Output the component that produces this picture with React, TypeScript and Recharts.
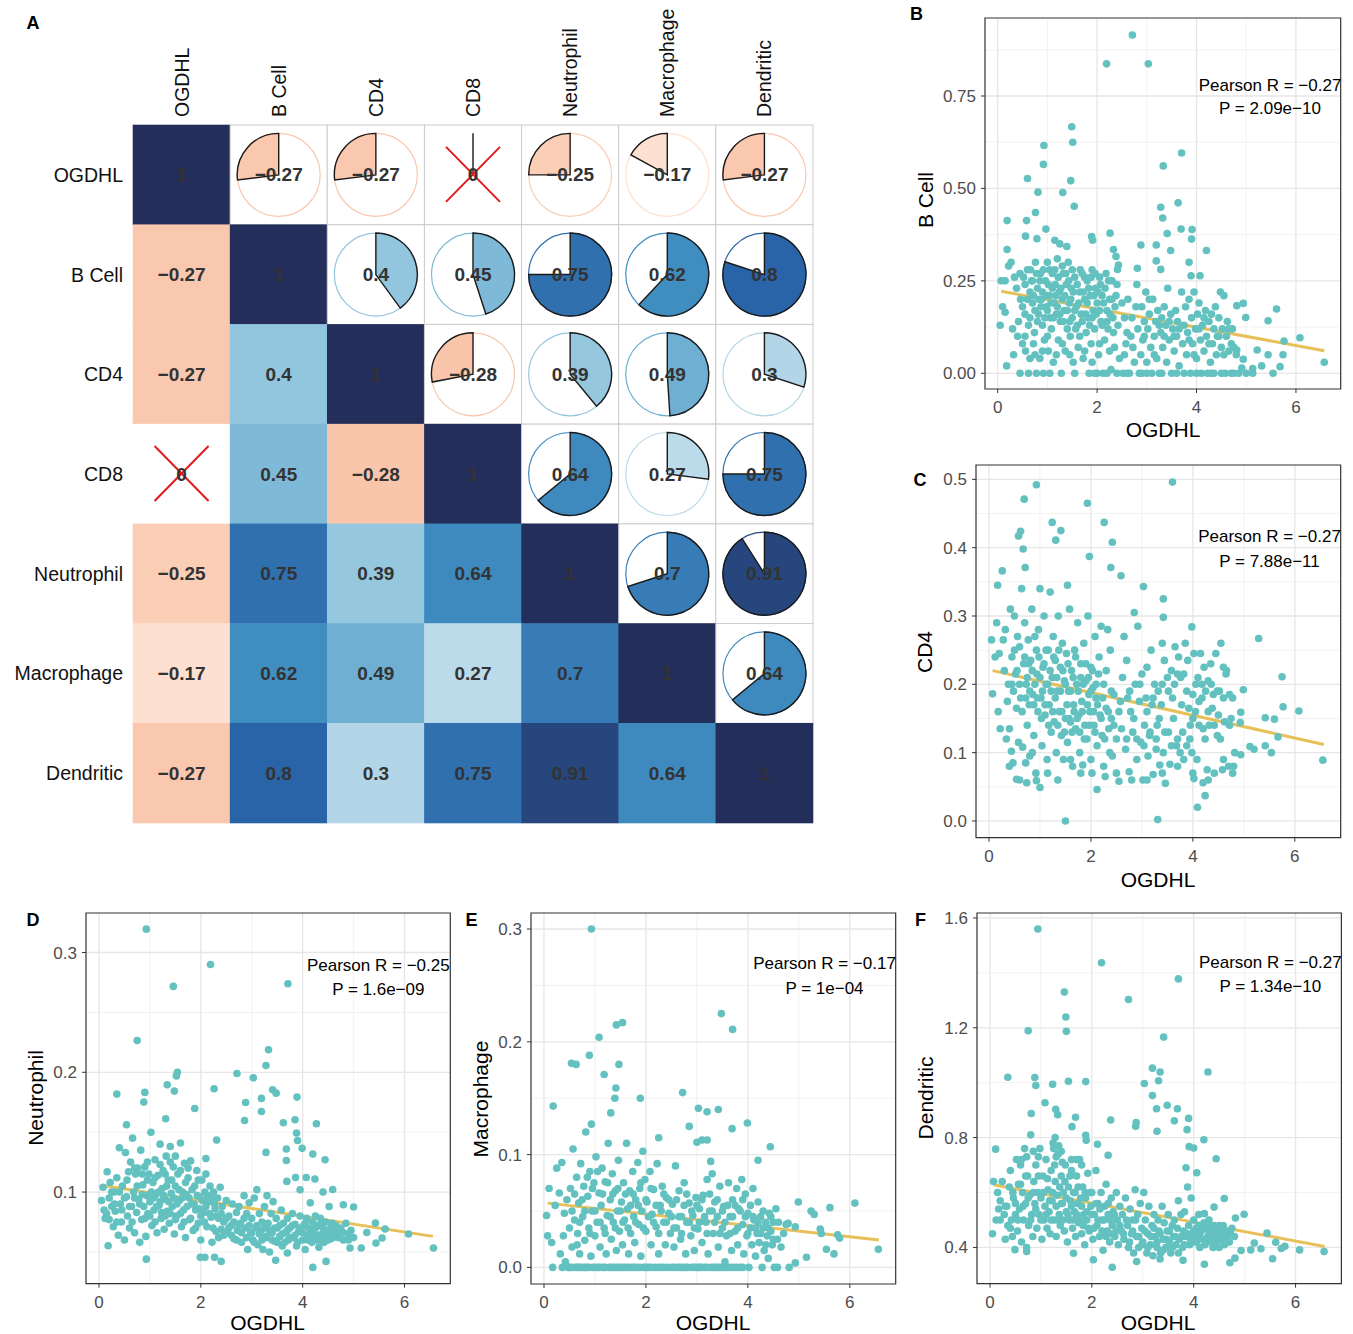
import React from 'react'
import {
  ScatterChart,
  Scatter,
  XAxis,
  YAxis,
  CartesianGrid,
  ReferenceLine,
  ReferenceArea,
} from 'recharts'

const FONT = '"Liberation Sans", Arial, Helvetica, sans-serif'

// ---------- panel A: correlation matrix ----------
const cellTypes = ['OGDHL', 'B Cell', 'CD4', 'CD8', 'Neutrophil', 'Macrophage', 'Dendritic']
const rOGDHL = [1, -0.27, -0.27, 0, -0.25, -0.17, -0.27]
const rBCell = [-0.27, 1, 0.4, 0.45, 0.75, 0.62, 0.8]
const rCD4 = [-0.27, 0.4, 1, -0.28, 0.39, 0.49, 0.3]
const rCD8 = [0, 0.45, -0.28, 1, 0.64, 0.27, 0.75]
const rNeutrophil = [-0.25, 0.75, 0.39, 0.64, 1, 0.7, 0.91]
const rMacrophage = [-0.17, 0.62, 0.49, 0.27, 0.7, 1, 0.64]
const rDendritic = [-0.27, 0.8, 0.3, 0.75, 0.91, 0.64, 1]
const corrMatrix = [rOGDHL, rBCell, rCD4, rCD8, rNeutrophil, rMacrophage, rDendritic]
const notSignificant = ['0-3', '3-0']
const colorbarTicks = [-1, -0.8, -0.6, -0.4, -0.2, 0, 0.2, 0.4, 0.6, 0.8, 1]

// ---------- panels B-F: OGDHL vs immune infiltration ----------
const ogdhlTicks = [0, 2, 4, 6]
const ogdhlMinor = [1, 3, 5]

const bCellPoints: [number, number][] = [
  [2.71,0.915],[2.19,0.837],[3.03,0.837],[1.49,0.667],[1.51,0.625],[0.93,0.616],[0.92,0.565],[0.6,0.527],[1.47,0.521],[1.31,0.489],[0.81,0.49],[1.54,0.452],[0.76,0.435],[0.19,0.413],[0.58,0.413],[0.56,0.371],[0.79,0.364],[0.97,0.39],
  [3.7,0.596],[3.33,0.561],[3.63,0.461],[3.28,0.449],[3.32,0.42],[3.69,0.39],[3.91,0.389],[3.9,0.363],[3.41,0.378],[4.2,0.332],[2.26,0.379],[1.89,0.37],[1.91,0.36],[1.15,0.36],[1.25,0.35],[1.39,0.343],[0.19,0.335],[2.33,0.335],[2.38,0.316],[2.43,0.293],[2.41,0.281],
  [2.88,0.347],[2.81,0.284],[3.19,0.347],[3.19,0.304],[3.28,0.281],[3.48,0.332],[3.85,0.3],[3.89,0.264],[4.07,0.264],[5.61,0.174],[5.44,0.142],[6.08,0.096],[6.57,0.03],[5.76,0.087],[5.74,0.05],[5.44,0.05],[5.54,0.0],[5.68,0.018],[5.31,0.02],[5.22,0.063],[5.13,0.013],[5.13,0.0],[4.99,0.151],[4.94,0.189],[4.81,0.183],[4.81,0.063],[4.94,0.038],[4.91,0.014],
  [0.05,0.13],[0.07,0.25],[0.1,0.18],[0.15,0.165],[0.15,0.25],[0.18,0.02],[0.22,0.29],[0.27,0.3],[0.3,0.12],[0.32,0.05],[0.34,0.26],[0.38,0.23],[0.4,0.1],[0.42,0.14],[0.45,0.0],[0.46,0.2],[0.5,0.08],[0.52,0.26],[0.55,0.16],[0.56,0.06],[0.6,0.28],[0.62,0.13],[0.62,0.0],[0.65,0.22],[0.68,0.25],[0.7,0.19],[0.72,0.08],[0.74,0.11],[0.76,0.3],[0.78,0.0],[0.8,0.23],[0.82,0.16],[0.85,0.04],[0.86,0.27],[0.88,0.2],[0.9,0.13],[0.92,0.0],[0.94,0.09],[0.96,0.25],[0.98,0.18],
  [1.0,0.3],[1.02,0.06],[1.04,0.21],[1.06,0.15],[1.08,0.12],[1.1,0.27],[1.12,0.03],[1.14,0.19],[1.16,0.24],[1.18,0.16],[1.2,0.31],[1.22,0.09],[1.24,0.22],[1.26,0.14],[1.28,0.0],[1.3,0.2],[1.32,0.27],[1.34,0.17],[1.36,0.06],[1.38,0.24],[1.4,0.12],[1.42,0.3],[1.44,0.19],[1.46,0.1],[1.48,0.23],[1.5,0.15],[1.52,0.03],[1.55,0.26],[1.58,0.18],[1.6,0.13],[1.62,0.07],[1.65,0.22],[1.68,0.16],[1.7,0.27],[1.72,0.04],[1.75,0.2],[1.78,0.11],[1.8,0.25],[1.82,0.15],[1.84,0.0],[1.86,0.21],[1.88,0.08],[1.9,0.28],[1.92,0.17],[1.95,0.12],[1.97,0.23],
  [2.0,0.0],[2.0,0.19],[2.03,0.05],[2.05,0.26],[2.08,0.14],[2.1,0.21],[2.12,0.0],[2.15,0.09],[2.18,0.27],[2.2,0.17],[2.22,0.12],[2.25,0.2],[2.28,0.01],[2.3,0.25],[2.32,0.15],[2.35,0.07],[2.38,0.21],[2.4,0.0],[2.42,0.13],
  [2.5,0.19],[2.55,0.05],[2.6,0.11],[2.62,0.2],[2.65,0.0],[2.7,0.15],[2.72,0.07],[2.75,0.03],[2.8,0.24],[2.82,0.12],[2.85,0.0],[2.9,0.18],[2.92,0.09],[2.95,0.14],[2.98,0.22],[3.0,0.03],[3.02,0.12],[3.05,0.16],[3.08,0.07],[3.1,0.0],[3.12,0.2],[3.15,0.1],[3.18,0.14],[3.2,0.04],[3.22,0.17],[3.25,0.0],[3.28,0.11],[3.3,0.15],[3.32,0.07],[3.35,0.18],[3.38,0.13],[3.4,0.03],[3.42,0.23],[3.45,0.09],[3.48,0.16],[3.5,0.0],[3.52,0.12],[3.55,0.06],[3.58,0.17],[3.6,0.1],[3.62,0.14],[3.65,0.02],[3.7,0.22],[3.72,0.08],[3.75,0.13],[3.78,0.18],[3.8,0.05],[3.82,0.11],[3.85,0.2],[3.88,0.0],[3.9,0.15],[3.92,0.08],[3.95,0.22],[3.98,0.12],
  [4.0,0.04],[4.02,0.16],[4.05,0.19],[4.08,0.09],[4.1,0.0],[4.12,0.13],[4.15,0.06],[4.18,0.17],[4.2,0.1],[4.22,0.0],[4.25,0.14],[4.28,0.03],[4.3,0.16],[4.32,0.08],[4.35,0.12],[4.38,0.18],[4.4,0.05],[4.42,0.1],[4.45,0.15],[4.48,0.22],[4.5,0.07],[4.52,0.12],[4.55,0.21],[4.58,0.0],[4.6,0.1],[4.62,0.14],[4.65,0.06],[4.7,0.08],[4.72,0.12],[4.75,0.0],[4.8,0.05],
  [0.45,0.27],[0.5,0.18],[0.55,0.24],[0.6,0.2],[0.65,0.15],[0.66,0.28],[0.7,0.25],[0.72,0.21],[0.75,0.17],[0.78,0.27],[0.8,0.14],[0.83,0.2],[0.85,0.25],[0.87,0.18],[0.9,0.22],[0.92,0.28],[0.95,0.15],[0.97,0.21],[1.0,0.17],[1.02,0.24],[1.05,0.28],[1.07,0.19],[1.1,0.23],[1.12,0.15],[1.15,0.28],[1.17,0.21],[1.2,0.18],[1.22,0.26],[1.25,0.16],[1.27,0.23],[1.3,0.29],[1.32,0.14],[1.35,0.21],[1.37,0.27],[1.4,0.17],[1.43,0.25],[1.45,0.14],[1.47,0.2],[1.5,0.28],[1.52,0.22],[1.55,0.17],[1.57,0.12],[1.6,0.24],[1.63,0.19],[1.66,0.28],[1.7,0.14],[1.72,0.22],[1.75,0.26],[1.77,0.16],[1.8,0.19],[1.83,0.23],[1.85,0.13],[1.88,0.26],[1.9,0.15],[1.93,0.21],[1.96,0.27],[1.98,0.16],[2.02,0.22],[2.05,0.17],[2.07,0.24],[2.1,0.13],[2.13,0.19],[2.16,0.23],[2.2,0.14],[2.23,0.25],[2.26,0.16],[2.3,0.2],[2.33,0.11],[2.36,0.18],[2.4,0.24],
  [0.55,0.1],[0.65,0.04],[0.75,0.05],[0.9,0.06],[1.0,0.1],[1.05,0.0],[1.18,0.05],[1.3,0.08],[1.45,0.05],[1.55,0.0],[1.65,0.1],[1.75,0.06],[1.9,0.03],[1.95,0.0],[2.05,0.08],[2.2,0.0],[2.25,0.06],[2.45,0.04],[2.52,0.0],[2.58,0.08],
  [2.55,0.15],[2.68,0.1],[2.78,0.18],[2.88,0.05],[2.95,0.1],[3.05,0.2],[3.15,0.05],[3.25,0.13],[3.35,0.1],[3.45,0.14],[3.55,0.1],[3.65,0.12],[3.75,0.0],[3.85,0.09],[3.95,0.05],[4.05,0.12],[4.15,0.15],[4.25,0.08],[4.35,0.0],[4.45,0.1],[4.55,0.05],[4.65,0.12],[4.75,0.07],[2.6,0.0],[2.9,0.0],[3.0,0.0],[3.3,0.0],[3.6,0.0],[4.0,0.0],[4.3,0.0],[4.5,0.0],[4.7,0.0],[5.0,0.0],[4.85,0.0],
]
const bCellFit: [number, number][] = [[0.07, 0.222], [6.57, 0.061]]

const cd4Points: [number, number][] = [
  [0.93,0.492],[3.6,0.496],[0.69,0.471],[1.93,0.465],[1.24,0.437],[2.26,0.437],[1.41,0.425],[1.31,0.411],[2.42,0.408],[0.62,0.424],[0.58,0.417],[0.67,0.398],[0.71,0.371],[1.97,0.387],[2.39,0.371],[2.59,0.359],[0.26,0.366],[0.17,0.345],[3.03,0.343],[1.54,0.345],[3.42,0.325],[3.42,0.298],[3.98,0.284],[5.29,0.267],
  [5.75,0.211],[5.77,0.167],[6.08,0.161],[6.55,0.089],[5.42,0.151],[5.6,0.149],[5.67,0.123],[5.42,0.11],[5.54,0.1],[5.12,0.109],[5.2,0.105],[4.99,0.192],[4.94,0.159],[4.93,0.144],[4.82,0.1],[4.94,0.097],
  [1.5,0.0],[3.31,0.002],[4.09,0.02],[4.24,0.037],[4.2,0.056],[4.02,0.062],[1.0,0.049],[2.12,0.046],[0.54,0.061],[0.74,0.056],[0.93,0.059],
  [0.05,0.265],[0.07,0.186],[0.12,0.24],[0.15,0.29],[0.18,0.16],[0.2,0.245],[0.22,0.135],[0.28,0.265],[0.3,0.22],[0.32,0.28],[0.34,0.12],[0.36,0.175],[0.38,0.2],[0.4,0.135],[0.42,0.31],[0.44,0.102],[0.45,0.24],[0.47,0.085],[0.48,0.19],[0.5,0.3],[0.52,0.215],[0.54,0.165],[0.56,0.27],[0.58,0.115],[0.6,0.255],[0.62,0.18],[0.64,0.34],[0.66,0.108],[0.68,0.23],[0.7,0.29],[0.72,0.085],[0.73,0.2],[0.75,0.14],[0.77,0.265],[0.79,0.17],[0.8,0.095],[0.82,0.235],[0.84,0.31],[0.86,0.185],[0.88,0.125],[0.9,0.27],[0.92,0.07],[0.94,0.215],[0.96,0.16],[0.98,0.24],
  [1.0,0.34],[1.02,0.18],[1.04,0.11],[1.06,0.225],[1.08,0.3],[1.1,0.155],[1.12,0.2],[1.14,0.09],[1.16,0.25],[1.18,0.17],[1.2,0.335],[1.22,0.13],[1.24,0.21],[1.26,0.27],[1.28,0.145],[1.3,0.235],[1.32,0.1],[1.34,0.19],[1.36,0.3],[1.38,0.16],[1.4,0.225],[1.42,0.125],[1.44,0.26],[1.46,0.09],[1.48,0.205],[1.5,0.15],[1.52,0.245],[1.54,0.115],[1.56,0.19],[1.58,0.31],[1.6,0.145],[1.62,0.22],[1.64,0.08],[1.66,0.17],[1.68,0.25],[1.7,0.135],[1.72,0.2],[1.74,0.29],[1.76,0.155],[1.78,0.1],[1.8,0.23],[1.82,0.175],[1.84,0.082],[1.86,0.26],[1.88,0.14],[1.9,0.205],[1.92,0.12],[1.94,0.3],[1.96,0.185],[1.98,0.16],
  [2.0,0.225],[2.02,0.07],[2.04,0.195],[2.06,0.14],[2.08,0.27],[2.1,0.18],[2.12,0.11],[2.15,0.215],[2.18,0.155],[2.2,0.285],[2.22,0.125],[2.25,0.2],[2.28,0.065],[2.3,0.165],[2.33,0.28],[2.35,0.135],[2.38,0.25],[2.4,0.15],[2.42,0.095],[2.45,0.185],[2.5,0.12],[2.55,0.058],[2.58,0.175],[2.6,0.135],[2.65,0.27],[2.68,0.105],[2.7,0.235],[2.72,0.18],[2.75,0.072],[2.78,0.16],[2.82,0.13],[2.85,0.305],[2.87,0.2],[2.9,0.09],[2.92,0.285],[2.95,0.175],[2.98,0.115],
  [3.0,0.215],[3.02,0.06],[3.05,0.14],[3.08,0.18],[3.1,0.225],[3.12,0.095],[3.15,0.125],[3.18,0.25],[3.2,0.17],[3.22,0.068],[3.25,0.2],[3.28,0.105],[3.3,0.14],[3.32,0.19],[3.35,0.082],[3.38,0.17],[3.4,0.26],[3.42,0.1],[3.44,0.235],[3.46,0.055],[3.5,0.21],[3.52,0.13],[3.55,0.083],[3.58,0.22],[3.6,0.18],[3.62,0.15],[3.65,0.255],[3.68,0.11],[3.7,0.215],[3.72,0.24],[3.75,0.1],[3.78,0.17],[3.8,0.13],[3.82,0.215],[3.85,0.26],[3.88,0.11],[3.9,0.235],[3.92,0.165],[3.95,0.14],[3.98,0.1],
  [4.0,0.185],[4.02,0.245],[4.05,0.16],[4.08,0.09],[4.1,0.21],[4.12,0.175],[4.15,0.245],[4.18,0.2],[4.2,0.135],[4.22,0.225],[4.25,0.19],[4.28,0.075],[4.3,0.205],[4.32,0.14],[4.35,0.23],[4.38,0.165],[4.4,0.185],[4.42,0.07],[4.45,0.245],[4.48,0.125],[4.5,0.155],[4.52,0.19],[4.55,0.26],[4.58,0.075],[4.6,0.225],[4.62,0.145],[4.65,0.215],[4.7,0.08],[4.72,0.185],[4.75,0.15],[4.78,0.07],[4.8,0.08],
  [0.45,0.2],[0.5,0.25],[0.55,0.22],[0.6,0.2],[0.65,0.16],[0.7,0.24],[0.72,0.18],[0.75,0.21],[0.78,0.23],[0.8,0.19],[0.85,0.22],[0.88,0.17],[0.9,0.2],[0.93,0.25],[0.95,0.18],[0.97,0.28],[1.0,0.21],[1.03,0.15],[1.05,0.19],[1.08,0.23],[1.1,0.17],[1.12,0.25],[1.15,0.2],[1.17,0.14],[1.2,0.22],[1.22,0.19],[1.25,0.16],[1.27,0.24],[1.3,0.18],[1.33,0.21],[1.35,0.14],[1.37,0.25],[1.4,0.19],[1.43,0.16],[1.45,0.22],[1.48,0.13],[1.5,0.2],[1.53,0.17],[1.55,0.23],[1.57,0.15],[1.6,0.19],[1.63,0.13],[1.65,0.21],[1.67,0.16],[1.7,0.24],[1.73,0.15],[1.75,0.19],[1.78,0.13],[1.8,0.21],[1.83,0.16],[1.85,0.2],[1.87,0.12],[1.9,0.23],[1.93,0.17],[1.95,0.21],[1.97,0.14],[2.0,0.19],[2.03,0.22],[2.05,0.16],[2.08,0.13],[2.1,0.2],[2.13,0.17],[2.16,0.24],[2.2,0.15],[2.23,0.18],[2.27,0.12],[2.3,0.22],[2.34,0.16],[2.37,0.1],[2.4,0.19],[2.45,0.14],
  [2.55,0.16],[2.62,0.21],[2.7,0.12],[2.76,0.19],[2.84,0.15],[2.9,0.12],[2.96,0.2],[3.04,0.11],[3.1,0.16],[3.16,0.13],[3.22,0.18],[3.28,0.12],[3.34,0.15],[3.4,0.2],[3.45,0.13],[3.52,0.19],[3.58,0.11],[3.64,0.2],[3.7,0.12],[3.76,0.21],[3.82,0.09],[3.88,0.19],[3.94,0.12],[4.0,0.15],[4.06,0.2],[4.12,0.14],[4.18,0.18],[4.24,0.12],[4.3,0.16],[4.36,0.2],[4.42,0.14],[4.48,0.19],[4.54,0.12],[4.6,0.18],[4.66,0.22],[4.72,0.14],[4.78,0.18],
  [0.4,0.08],[0.6,0.06],[0.85,0.1],[1.15,0.07],[1.35,0.06],[1.6,0.09],[1.8,0.07],[2.0,0.09],[2.25,0.08],[2.5,0.07],[2.8,0.06],[3.1,0.06],[3.4,0.07],[3.7,0.08],[4.0,0.07],[4.3,0.06],[4.6,0.09],
]
const cd4Fit: [number, number][] = [[0.07, 0.22], [6.57, 0.112]]

const neutrophilPoints: [number, number][] = [
  [0.93,0.3195],[2.19,0.29],[1.46,0.2717],[3.71,0.2739],[0.75,0.2266],[3.33,0.2188],[3.28,0.2057],[2.71,0.199],[3.03,0.1954],[1.54,0.2],[1.52,0.197],[0.35,0.1818],[0.9,0.1832],[0.88,0.1751],[1.34,0.1896],[1.48,0.1843],[2.26,0.1863],[1.88,0.1698],
  [2.88,0.1748],[3.19,0.1782],[3.41,0.1854],[3.48,0.1826],[3.89,0.1793],[3.19,0.1673],[2.86,0.1598],[3.62,0.1579],[3.85,0.1604],[4.27,0.157],[0.54,0.1562],[1.31,0.1612],[2.31,0.1434],[3.28,0.1331],[3.88,0.1493],[3.9,0.1431],[3.99,0.1365],[3.68,0.136],[3.68,0.1264],[4.2,0.1317],[4.44,0.127],
  [3.69,0.1089],[3.86,0.1122],[4.07,0.1122],[4.24,0.1109],[3.95,0.1019],[4.59,0.1022],[4.4,0.1],[4.8,0.0894],[5.0,0.0875],[5.43,0.0741],[5.26,0.0663],[5.62,0.0691],[6.08,0.065],[6.57,0.0533],[5.56,0.0616],[5.44,0.0574],[5.15,0.0533],[4.93,0.0533],
  [0.93,0.044],[0.18,0.0552],[1.99,0.0455],[2.08,0.0455],[2.27,0.0455],[2.4,0.0421],[3.47,0.043],[4.2,0.0371],[4.46,0.0421],[3.7,0.0491],
  [0.05,0.093],[0.08,0.104],[0.12,0.078],[0.15,0.082],[0.16,0.117],[0.2,0.095],[0.22,0.108],[0.25,0.088],[0.28,0.071],[0.3,0.1],[0.32,0.084],[0.35,0.112],[0.38,0.064],[0.4,0.137],[0.42,0.09],[0.44,0.075],[0.46,0.105],[0.5,0.06],[0.52,0.133],[0.54,0.096],[0.56,0.08],[0.58,0.117],[0.6,0.07],[0.62,0.125],[0.64,0.088],[0.66,0.145],[0.68,0.1],[0.7,0.066],[0.72,0.115],[0.74,0.083],[0.76,0.12],[0.78,0.094],[0.8,0.058],[0.82,0.135],[0.84,0.077],[0.86,0.106],[0.88,0.088],[0.9,0.121],[0.92,0.063],[0.94,0.097],[0.96,0.082],[0.98,0.115],
  [1.0,0.092],[1.02,0.15],[1.04,0.072],[1.06,0.108],[1.08,0.085],[1.1,0.127],[1.12,0.098],[1.14,0.066],[1.16,0.114],[1.18,0.089],[1.2,0.14],[1.22,0.078],[1.24,0.103],[1.26,0.118],[1.28,0.069],[1.3,0.094],[1.32,0.13],[1.34,0.084],[1.36,0.11],[1.38,0.074],[1.4,0.138],[1.42,0.099],[1.44,0.088],[1.46,0.121],[1.48,0.065],[1.5,0.105],[1.52,0.08],[1.55,0.115],[1.58,0.093],[1.6,0.141],[1.62,0.071],[1.64,0.1],[1.66,0.085],[1.68,0.124],[1.7,0.062],[1.72,0.098],[1.75,0.112],[1.78,0.077],[1.8,0.126],[1.82,0.09],[1.85,0.068],[1.88,0.105],[1.9,0.085],[1.92,0.118],[1.95,0.074],[1.98,0.096],
  [2.0,0.06],[2.02,0.11],[2.05,0.083],[2.08,0.1],[2.1,0.128],[2.12,0.071],[2.15,0.092],[2.18,0.105],[2.2,0.079],[2.22,0.058],[2.25,0.1],[2.28,0.086],[2.3,0.067],[2.33,0.095],[2.35,0.078],[2.38,0.104],[2.4,0.069],[2.42,0.088],[2.45,0.075],[2.5,0.093],[2.52,0.066],[2.55,0.08],[2.6,0.072],[2.62,0.09],[2.65,0.061],[2.7,0.083],[2.72,0.068],[2.75,0.088],[2.78,0.074],[2.8,0.058],[2.85,0.097],[2.88,0.07],[2.9,0.082],[2.92,0.052],[2.95,0.091],[2.98,0.066],
  [3.0,0.078],[3.02,0.06],[3.05,0.095],[3.08,0.07],[3.1,0.102],[3.12,0.056],[3.15,0.082],[3.18,0.068],[3.2,0.075],[3.22,0.052],[3.25,0.088],[3.28,0.063],[3.3,0.097],[3.32,0.074],[3.35,0.05],[3.38,0.082],[3.4,0.066],[3.42,0.092],[3.45,0.059],[3.48,0.078],[3.5,0.07],[3.55,0.063],[3.58,0.085],[3.6,0.055],[3.62,0.074],[3.65,0.066],[3.7,0.078],[3.72,0.06],[3.75,0.07],[3.8,0.082],[3.82,0.062],[3.85,0.073],[3.88,0.055],[3.92,0.067],[3.95,0.08],
  [4.0,0.06],[4.02,0.072],[4.05,0.052],[4.08,0.078],[4.1,0.064],[4.12,0.07],[4.15,0.091],[4.18,0.058],[4.2,0.075],[4.22,0.066],[4.25,0.08],[4.28,0.06],[4.3,0.072],[4.32,0.054],[4.35,0.078],[4.38,0.065],[4.4,0.07],[4.42,0.058],[4.45,0.075],[4.48,0.063],[4.5,0.068],[4.52,0.088],[4.55,0.061],[4.58,0.074],[4.6,0.066],[4.65,0.072],[4.7,0.062],[4.75,0.07],[4.8,0.066],[4.85,0.074],[4.9,0.06],[4.95,0.068],
  [0.1,0.085],[0.2,0.077],[0.25,0.1],[0.3,0.09],[0.35,0.075],[0.4,0.1],[0.45,0.085],[0.5,0.095],[0.55,0.11],[0.6,0.088],[0.65,0.075],[0.7,0.095],[0.75,0.105],[0.8,0.09],[0.85,0.098],[0.9,0.078],[0.95,0.11],[1.0,0.08],[1.03,0.1],[1.07,0.095],[1.1,0.075],[1.13,0.088],[1.17,0.1],[1.2,0.092],[1.23,0.083],[1.27,0.097],[1.3,0.08],[1.33,0.105],[1.37,0.092],[1.4,0.082],[1.43,0.11],[1.47,0.095],[1.5,0.077],[1.53,0.09],[1.57,0.102],[1.6,0.082],[1.63,0.095],[1.67,0.075],[1.7,0.108],[1.73,0.088],[1.77,0.095],[1.8,0.078],[1.83,0.102],[1.87,0.09],[1.9,0.07],[1.93,0.097],[1.97,0.086],[2.0,0.08],[2.03,0.093],[2.07,0.075],[2.1,0.088],[2.13,0.097],[2.17,0.082],[2.2,0.095],[2.24,0.07],[2.27,0.09],[2.3,0.08],[2.35,0.062],[2.4,0.082],[2.45,0.064],
  [2.5,0.078],[2.55,0.07],[2.6,0.064],[2.65,0.075],[2.7,0.06],[2.75,0.072],[2.8,0.066],[2.85,0.078],[2.9,0.062],[2.95,0.072],[3.0,0.066],[3.05,0.058],[3.1,0.072],[3.15,0.065],[3.2,0.06],[3.25,0.07],[3.3,0.062],[3.35,0.068],[3.4,0.06],[3.45,0.07],[3.5,0.058],[3.55,0.072],[3.6,0.065],[3.65,0.058],[3.7,0.068],[3.75,0.062],[3.8,0.072],[3.85,0.064],[3.9,0.058],[3.95,0.07],[4.0,0.066],[4.05,0.074],[4.1,0.06],[4.15,0.068],[4.2,0.062],[4.25,0.07],[4.3,0.064],[4.35,0.06],[4.4,0.074],[4.45,0.066],[4.5,0.06],[4.55,0.07],[4.6,0.062],[4.7,0.068],[4.8,0.06],[4.9,0.065],[5.0,0.062],
  [1.2,0.123],[1.3,0.115],[1.4,0.125],[1.5,0.13],[1.1,0.112],[0.95,0.125],[0.7,0.12],[0.85,0.115],[1.6,0.118],[1.75,0.12],[1.95,0.11],[2.1,0.115],
]
const neutrophilFit: [number, number][] = [[0.07, 0.1055], [6.56, 0.063]]

const macrophagePoints: [number, number][] = [
  [0.93,0.3],[3.48,0.225],[3.7,0.211],[1.42,0.215],[1.54,0.217],[1.08,0.204],[0.89,0.188],[0.54,0.181],[0.63,0.18],[1.47,0.18],[1.18,0.171],[1.41,0.159],[1.39,0.15],[1.89,0.15],[1.31,0.137],[2.72,0.155],
  [0.18,0.143],[0.93,0.127],[3.03,0.141],[3.2,0.138],[3.42,0.14],[2.85,0.125],[3.69,0.123],[3.99,0.128],[3.0,0.111],[3.1,0.113],[3.2,0.113],[2.25,0.115],[4.44,0.107],[4.2,0.095],[3.27,0.094],
  [4.99,0.058],[6.1,0.057],[5.61,0.053],[5.24,0.05],[5.3,0.047],[5.42,0.034],[5.44,0.03],[5.76,0.029],[5.8,0.026],[6.56,0.016],[5.54,0.016],[5.69,0.012],[5.15,0.009],[4.93,0.004],[4.81,0.0],[4.58,0.0],[4.93,0.036],[4.79,0.039],
  [0.05,0.046],[0.07,0.028],[0.1,0.07],[0.15,0.022],[0.17,0.0],[0.22,0.055],[0.25,0.088],[0.3,0.066],[0.32,0.012],[0.35,0.093],[0.36,0.0],[0.38,0.028],[0.4,0.048],[0.42,0.005],[0.45,0.06],[0.48,0.0],[0.5,0.035],[0.52,0.07],[0.55,0.018],[0.57,0.105],[0.6,0.042],[0.62,0.0],[0.64,0.08],[0.66,0.03],[0.68,0.057],[0.7,0.012],[0.72,0.092],[0.74,0.0],[0.76,0.045],[0.78,0.072],[0.8,0.024],[0.82,0.12],[0.84,0.0],[0.86,0.063],[0.88,0.035],[0.9,0.085],[0.92,0.01],[0.94,0.05],[0.96,0.0],[0.98,0.075],
  [1.0,0.028],[1.02,0.098],[1.04,0.04],[1.06,0.0],[1.08,0.066],[1.1,0.018],[1.12,0.055],[1.14,0.088],[1.16,0.0],[1.18,0.035],[1.2,0.076],[1.22,0.012],[1.24,0.046],[1.26,0.11],[1.28,0.0],[1.3,0.06],[1.32,0.025],[1.34,0.083],[1.36,0.04],[1.38,0.0],[1.4,0.068],[1.42,0.015],[1.44,0.05],[1.46,0.095],[1.48,0.032],[1.5,0.0],[1.52,0.058],[1.54,0.02],[1.56,0.075],[1.58,0.042],[1.6,0.0],[1.62,0.11],[1.64,0.052],[1.66,0.012],[1.68,0.068],[1.7,0.03],[1.72,0.0],[1.74,0.085],[1.76,0.045],[1.78,0.022],[1.8,0.06],[1.82,0.0],[1.84,0.093],[1.86,0.038],[1.88,0.07],[1.9,0.01],[1.92,0.05],[1.94,0.103],[1.96,0.0],[1.98,0.078],
  [2.0,0.032],[2.02,0.058],[2.05,0.0],[2.08,0.085],[2.1,0.02],[2.12,0.047],[2.15,0.069],[2.18,0.0],[2.2,0.036],[2.22,0.092],[2.25,0.012],[2.28,0.055],[2.3,0.0],[2.32,0.072],[2.35,0.04],[2.38,0.02],[2.4,0.062],[2.42,0.0],[2.45,0.048],[2.48,0.03],[2.5,0.0],[2.52,0.056],[2.55,0.018],[2.58,0.09],[2.6,0.035],[2.62,0.0],[2.65,0.068],[2.68,0.025],[2.7,0.045],[2.72,0.0],[2.75,0.075],[2.78,0.012],[2.8,0.04],[2.82,0.0],[2.85,0.057],[2.88,0.028],[2.9,0.0],[2.92,0.046],[2.95,0.015],[2.98,0.062],
  [3.0,0.0],[3.02,0.034],[3.05,0.052],[3.08,0.0],[3.1,0.022],[3.12,0.064],[3.15,0.0],[3.18,0.04],[3.2,0.078],[3.22,0.012],[3.25,0.05],[3.28,0.0],[3.3,0.083],[3.32,0.03],[3.35,0.058],[3.38,0.0],[3.4,0.045],[3.42,0.018],[3.45,0.072],[3.48,0.0],[3.5,0.035],[3.52,0.054],[3.55,0.005],[3.58,0.028],[3.6,0.0],[3.62,0.075],[3.65,0.045],[3.68,0.015],[3.7,0.06],[3.72,0.0],[3.75,0.032],[3.78,0.07],[3.8,0.02],[3.82,0.052],[3.85,0.0],[3.88,0.078],[3.9,0.038],[3.92,0.012],[3.95,0.065],[3.98,0.028],
  [4.0,0.048],[4.02,0.0],[4.05,0.035],[4.08,0.02],[4.1,0.07],[4.12,0.042],[4.15,0.01],[4.18,0.03],[4.2,0.058],[4.22,0.022],[4.25,0.045],[4.28,0.0],[4.3,0.035],[4.32,0.015],[4.35,0.04],[4.38,0.028],[4.4,0.008],[4.42,0.048],[4.45,0.032],[4.48,0.02],[4.5,0.04],[4.52,0.0],[4.55,0.052],[4.58,0.025],[4.6,0.04],[4.65,0.018],[4.7,0.03],[4.75,0.038],
  [0.55,0.05],[0.6,0.065],[0.65,0.02],[0.7,0.04],[0.75,0.06],[0.8,0.05],[0.85,0.08],[0.9,0.03],[0.95,0.07],[1.0,0.05],[1.05,0.085],[1.1,0.04],[1.15,0.065],[1.2,0.03],[1.25,0.075],[1.3,0.045],[1.35,0.065],[1.4,0.035],[1.45,0.07],[1.5,0.05],[1.55,0.04],[1.6,0.065],[1.65,0.035],[1.7,0.055],[1.75,0.065],[1.8,0.04],[1.85,0.055],[1.9,0.075],[1.95,0.035],[2.0,0.06],[2.05,0.045],[2.1,0.07],[2.15,0.04],[2.2,0.055],[2.25,0.03],[2.3,0.05],[2.35,0.065],[2.4,0.04],[2.45,0.06],[2.5,0.045],[2.55,0.035],[2.6,0.06],[2.65,0.045],[2.7,0.03],[2.75,0.055],[2.8,0.065],[2.85,0.04],[2.9,0.05],[2.95,0.035],[3.0,0.055],[3.05,0.04],[3.1,0.06],[3.15,0.045],[3.2,0.03],[3.25,0.065],[3.3,0.05],[3.35,0.04],[3.4,0.06],[3.45,0.03],[3.5,0.05],[3.55,0.04],[3.6,0.055],[3.65,0.03],[3.7,0.045],[3.75,0.055],[3.8,0.035],[3.85,0.05],[3.9,0.06],[3.95,0.045],[4.0,0.03],[4.05,0.055],[4.1,0.045],[4.15,0.035],[4.2,0.04],[4.25,0.03],[4.3,0.05],[4.35,0.02],[4.4,0.035],[4.45,0.045],[4.5,0.025],
  [0.5,0.0],[0.55,0.0],[0.65,0.0],[0.7,0.0],[0.8,0.0],[0.88,0.0],[1.0,0.0],[1.1,0.0],[1.2,0.0],[1.33,0.0],[1.44,0.0],[1.55,0.0],[1.66,0.0],[1.77,0.0],[1.88,0.0],[2.0,0.0],[2.1,0.0],[2.25,0.0],[2.35,0.0],[2.55,0.0],[2.67,0.0],[2.78,0.0],[2.95,0.0],[3.05,0.0],[3.2,0.0],[3.33,0.0],[3.43,0.0],[3.53,0.0],[3.65,0.0],[3.78,0.0],[3.9,0.0],
]
const macrophageFit: [number, number][] = [[0.07, 0.057], [6.57, 0.0243]]

const dendriticPoints: [number, number][] = [
  [0.94,1.56],[2.19,1.437],[3.7,1.378],[1.46,1.33],[2.72,1.303],[1.49,1.239],[1.5,1.187],[0.75,1.189],[3.41,1.166],
  [0.35,1.02],[0.88,1.019],[0.9,0.99],[1.23,0.994],[1.54,1.005],[1.88,1.004],[3.19,1.053],[3.34,1.039],[4.28,1.039],[3.03,0.997],[3.31,1.007],[3.19,0.953],[1.08,0.927],[3.27,0.905],[3.48,0.918],[3.68,0.905],[1.29,0.903],[1.33,0.883],[0.81,0.888],[1.68,0.874],[2.37,0.864],[3.62,0.861],[3.9,0.87],[2.87,0.855],[2.86,0.841],[1.61,0.84],[3.28,0.823],[3.87,0.829],[4.2,0.792],[1.88,0.808],[1.89,0.79],[2.11,0.776],[2.32,0.736],[3.91,0.767],[4.0,0.762],[4.44,0.723],[3.85,0.69],[4.06,0.672],[0.11,0.758],
  [4.99,0.521],[4.82,0.507],[4.6,0.578],[4.4,0.547],[4.21,0.523],[5.44,0.452],[5.61,0.419],[5.72,0.396],[5.79,0.404],[6.08,0.391],[6.56,0.385],[5.55,0.359],[5.32,0.395],[5.19,0.416],[5.12,0.391],[4.93,0.389],[4.81,0.361],[4.71,0.344],[4.21,0.339],[3.79,0.353],
  [2.4,0.328],[2.03,0.355],[1.64,0.379],[0.49,0.392],[0.72,0.385],[2.88,0.349],[3.34,0.358],
  [0.05,0.45],[0.07,0.64],[0.12,0.5],[0.15,0.6],[0.17,0.54],[0.2,0.57],[0.24,0.64],[0.28,0.52],[0.3,0.43],[0.33,0.55],[0.35,0.48],[0.38,0.62],[0.4,0.68],[0.42,0.5],[0.44,0.44],[0.46,0.58],[0.5,0.52],[0.52,0.72],[0.54,0.46],[0.56,0.63],[0.58,0.54],[0.6,0.7],[0.62,0.42],[0.64,0.6],[0.66,0.5],[0.68,0.76],[0.7,0.56],[0.72,0.4],[0.74,0.66],[0.76,0.48],[0.78,0.59],[0.8,0.81],[0.82,0.52],[0.84,0.44],[0.86,0.64],[0.88,0.56],[0.9,0.7],[0.92,0.47],[0.94,0.6],[0.96,0.52],[0.98,0.76],
  [1.0,0.58],[1.02,0.43],[1.04,0.66],[1.06,0.5],[1.08,0.55],[1.1,0.72],[1.12,0.47],[1.14,0.61],[1.16,0.53],[1.18,0.45],[1.2,0.68],[1.22,0.57],[1.24,0.78],[1.26,0.5],[1.28,0.64],[1.3,0.44],[1.32,0.59],[1.34,0.74],[1.36,0.52],[1.38,0.48],[1.4,0.66],[1.42,0.56],[1.44,0.6],[1.46,0.46],[1.48,0.7],[1.5,0.53],[1.52,0.42],[1.54,0.62],[1.56,0.5],[1.58,0.57],[1.6,0.72],[1.62,0.47],[1.64,0.6],[1.66,0.53],[1.68,0.44],[1.7,0.66],[1.72,0.56],[1.74,0.49],[1.76,0.72],[1.78,0.58],[1.8,0.45],[1.82,0.62],[1.84,0.52],[1.86,0.41],[1.88,0.58],[1.9,0.5],[1.92,0.67],[1.95,0.46],[1.98,0.55],
  [2.0,0.6],[2.02,0.43],[2.05,0.52],[2.08,0.68],[2.1,0.48],[2.12,0.56],[2.15,0.44],[2.18,0.6],[2.2,0.5],[2.22,0.39],[2.25,0.55],[2.28,0.63],[2.3,0.46],[2.32,0.52],[2.35,0.42],[2.38,0.58],[2.4,0.48],[2.42,0.53],[2.45,0.44],[2.48,0.6],[2.5,0.5],[2.52,0.41],[2.55,0.55],[2.58,0.46],[2.6,0.52],[2.63,0.43],[2.66,0.58],[2.7,0.48],[2.72,0.4],[2.75,0.54],[2.78,0.45],[2.8,0.5],[2.82,0.38],[2.85,0.61],[2.88,0.44],[2.9,0.52],[2.92,0.4],[2.95,0.56],[2.98,0.47],
  [3.0,0.42],[3.02,0.6],[3.05,0.5],[3.08,0.38],[3.1,0.45],[3.12,0.55],[3.15,0.41],[3.18,0.48],[3.2,0.37],[3.22,0.52],[3.25,0.44],[3.28,0.4],[3.3,0.5],[3.32,0.46],[3.35,0.38],[3.38,0.55],[3.4,0.43],[3.42,0.49],[3.45,0.4],[3.48,0.46],[3.5,0.52],[3.52,0.42],[3.55,0.38],[3.58,0.48],[3.6,0.44],[3.62,0.5],[3.65,0.41],[3.68,0.47],[3.7,0.57],[3.72,0.43],[3.75,0.52],[3.78,0.4],[3.8,0.46],[3.82,0.53],[3.85,0.44],[3.88,0.62],[3.9,0.48],[3.92,0.41],[3.95,0.58],[3.98,0.45],
  [4.0,0.5],[4.02,0.42],[4.05,0.47],[4.08,0.44],[4.1,0.52],[4.12,0.4],[4.15,0.46],[4.18,0.43],[4.2,0.49],[4.22,0.41],[4.25,0.47],[4.28,0.44],[4.3,0.5],[4.32,0.42],[4.35,0.46],[4.38,0.4],[4.4,0.48],[4.42,0.44],[4.45,0.42],[4.48,0.47],[4.5,0.4],[4.52,0.45],[4.55,0.43],[4.58,0.48],[4.6,0.41],[4.62,0.46],[4.65,0.44],[4.7,0.42],[4.75,0.47],[4.8,0.44],
  [0.2,0.5],[0.3,0.55],[0.4,0.47],[0.45,0.6],[0.5,0.56],[0.55,0.5],[0.6,0.63],[0.65,0.55],[0.7,0.66],[0.75,0.58],[0.8,0.5],[0.85,0.6],[0.9,0.54],[0.95,0.66],[1.0,0.5],[1.05,0.6],[1.1,0.52],[1.13,0.65],[1.17,0.57],[1.2,0.5],[1.23,0.6],[1.27,0.7],[1.3,0.55],[1.33,0.5],[1.37,0.62],[1.4,0.56],[1.43,0.5],[1.47,0.64],[1.5,0.58],[1.53,0.52],[1.57,0.66],[1.6,0.55],[1.63,0.5],[1.67,0.6],[1.7,0.52],[1.73,0.62],[1.77,0.5],[1.8,0.55],[1.83,0.48],[1.87,0.6],[1.9,0.53],[1.93,0.47],[1.97,0.6],[2.0,0.52],[2.04,0.47],[2.08,0.56],[2.12,0.5],[2.16,0.54],[2.2,0.46],[2.24,0.5],[2.28,0.44],[2.32,0.56],[2.36,0.5],[2.4,0.45],[2.44,0.52],[2.48,0.46],
  [1.25,0.76],[1.3,0.73],[1.35,0.77],[1.4,0.75],[1.28,0.8],[1.42,0.71],[1.6,0.68],[1.7,0.72],[1.8,0.7],[0.62,0.72],[0.72,0.73],[0.85,0.75],[0.95,0.73],
  [2.55,0.48],[2.62,0.45],[2.68,0.5],[2.74,0.42],[2.8,0.46],[2.86,0.5],[2.92,0.44],[2.98,0.41],[3.04,0.46],[3.1,0.4],[3.16,0.44],[3.22,0.47],[3.28,0.42],[3.34,0.45],[3.4,0.39],[3.46,0.43],[3.52,0.46],[3.58,0.4],[3.64,0.44],[3.7,0.38],[3.76,0.44],[3.82,0.41],[3.88,0.45],[3.94,0.43],[4.0,0.46],[4.06,0.42],[4.12,0.45],[4.18,0.47],[4.24,0.43],[4.3,0.45],[4.36,0.43],[4.42,0.46],[4.48,0.43],[4.54,0.45],[4.6,0.44],[4.66,0.42],[4.72,0.45],[4.5,0.48],[4.35,0.48],[4.1,0.48],
]
const dendriticFit: [number, number][] = [[0.07, 0.628], [6.57, 0.4036]]

// ---------- colours ----------
const RDBU = ['#67001F', '#B2182B', '#D6604D', '#F4A582', '#FDDBC7', '#FFFFFF', '#D1E5F0', '#92C5DE', '#4393C3', '#2A64A8', '#232E5A']
const hexRgb = (h: string) => [1, 3, 5].map((i) => parseInt(h.slice(i, i + 2), 16))
function corrColor(v: number) {
  const t = ((v + 1) / 2) * 10
  const i = Math.min(9, Math.floor(t))
  const f = t - i
  const a = hexRgb(RDBU[i])
  const b = hexRgb(RDBU[i + 1])
  const c = a.map((x, k) => Math.round(x + (b[k] - x) * f))
  return `rgb(${c[0]},${c[1]},${c[2]})`
}
const fmt = (v: number) => String(v).replace('-', '\u2212')

const POINT = '#63C1C0'
const FIT = '#E8C05A'
const OGDHL_DOMAIN: [number, number] = [-0.255, 6.9]

// ---------- small text helper ----------
function Txt({ x, y, children, size = 17, bold = false, rotate = false, color = '#000' }: any) {
  return (
    <div
      style={{
        position: 'absolute',
        left: x,
        top: y,
        transform: `translate(-50%,-50%)${rotate ? ' rotate(-90deg)' : ''}`,
        fontFamily: FONT,
        fontSize: size,
        fontWeight: bold ? 700 : 400,
        color,
        lineHeight: 1,
        whiteSpace: 'nowrap',
      }}
    >
      {children}
    </div>
  )
}

// ---------- panel A ----------
const MX = { left: 133, top: 125, right: 813, bottom: 823 }
const CW = (MX.right - MX.left) / 7
const CH = (MX.bottom - MX.top) / 7
const PIE_R = 41.5

function MatrixCell(props: any) {
  const { cx, cy, payload } = props
  const { row, col, value } = payload
  const color = corrColor(value)
  const crossed = notSignificant.includes(`${row}-${col}`)
  const label = (
    <text x={cx} y={cy} textAnchor="middle" dominantBaseline="central" fontSize={19} fontWeight={700} fontFamily={FONT} fill="#333">
      {fmt(value)}
    </text>
  )
  const cross = crossed ? (
    <g stroke="#E3191C" strokeWidth={2}>
      <line x1={cx - 27} y1={cy - 28} x2={cx + 27} y2={cy + 27} />
      <line x1={cx + 27} y1={cy - 28} x2={cx - 27} y2={cy + 27} />
    </g>
  ) : null
  if (col <= row) {
    return (
      <g>
        <rect x={cx - CW / 2 - 0.3} y={cy - CH / 2 - 0.3} width={CW + 0.6} height={CH + 0.6} fill={color} />
        {cross}
        {label}
      </g>
    )
  }
  const ang = value * 2 * Math.PI
  const ex = cx + PIE_R * Math.sin(ang)
  const ey = cy - PIE_R * Math.cos(ang)
  const large = Math.abs(value) > 0.5 ? 1 : 0
  const sweep = value > 0 ? 1 : 0
  const d =
    value === 0
      ? `M${cx},${cy}L${cx},${cy - PIE_R}`
      : `M${cx},${cy}L${cx},${cy - PIE_R}A${PIE_R},${PIE_R} 0 ${large} ${sweep} ${ex},${ey}Z`
  return (
    <g>
      <rect x={cx - CW / 2} y={cy - CH / 2} width={CW} height={CH} fill="#fff" stroke="#cccccc" strokeWidth={1} />
      <circle cx={cx} cy={cy} r={PIE_R} fill="#fff" stroke={color} strokeWidth={1.2} />
      <path d={d} fill={color} stroke="#1a1a1a" strokeWidth={1.4} />
      {cross}
      {label}
    </g>
  )
}

function CorrMatrix() {
  const cells = corrMatrix.flatMap((vals, row) => vals.map((value, col) => ({ row, col, value })))
  const W = 900
  const H = 830
  return (
    <div style={{ position: 'absolute', left: 0, top: 0 }}>
      <ScatterChart width={W} height={H} margin={{ top: 5, left: 5, right: W - MX.right, bottom: H - MX.bottom }}>
        <XAxis
          type="number"
          dataKey="col"
          orientation="top"
          domain={[-0.5, 6.5]}
          ticks={[0, 1, 2, 3, 4, 5, 6]}
          interval={0}
          height={120}
          axisLine={false}
          tickLine={false}
          tickSize={0}
          tickMargin={8}
          tick={(p: any) => (
            <text
              key={p.payload.value}
              transform={`translate(${p.x},${p.y}) rotate(-90)`}
              textAnchor="start"
              dominantBaseline="central"
              fontSize={19.5}
              fontFamily={FONT}
              fill="#111"
            >
              {cellTypes[p.payload.value]}
            </text>
          )}
        />
        <YAxis
          type="number"
          dataKey="row"
          reversed
          domain={[-0.5, 6.5]}
          ticks={[0, 1, 2, 3, 4, 5, 6]}
          interval={0}
          width={128}
          axisLine={false}
          tickLine={false}
          tickSize={0}
          tickMargin={10}
          tick={(p: any) => (
            <text key={p.payload.value} x={p.x} y={p.y} textAnchor="end" dominantBaseline="central" fontSize={19.5} fontFamily={FONT} fill="#111">
              {cellTypes[p.payload.value]}
            </text>
          )}
        />
        <Scatter data={cells} isAnimationActive={false} shape={MatrixCell} />
      </ScatterChart>
    </div>
  )
}

function gradientStops() {
  return RDBU.map((c, i) => <stop key={i} offset={`${i * 10}%`} stopColor={c} />)
}

function VerticalColorbar() {
  return (
    <div style={{ position: 'absolute', left: 813, top: 115 }}>
      <ScatterChart width={100} height={718} margin={{ top: 10, right: 3, bottom: 10, left: 10 }}>
        <defs>
          <linearGradient id="vbar" x1="0" y1="1" x2="0" y2="0">
            {gradientStops()}
          </linearGradient>
        </defs>
        <XAxis type="number" dataKey="x" domain={[0, 1]} hide />
        <YAxis
          type="number"
          dataKey="y"
          orientation="right"
          domain={[-1, 1]}
          ticks={colorbarTicks}
          interval={0}
          width={60}
          axisLine={false}
          tickLine={{ stroke: '#222' }}
          tickSize={4}
          tickMargin={22}
          tick={(p: any) => (
            <text key={p.payload.value} x={p.x} y={p.y} textAnchor="middle" dominantBaseline="central" fontSize={16} fontFamily={FONT} fill="#222">
              {fmt(p.payload.value)}
            </text>
          )}
        />
        <Scatter data={[]} isAnimationActive={false} />
        <ReferenceArea x1={0} x2={1} y1={-1} y2={1} fill="url(#vbar)" fillOpacity={1} stroke="#222" strokeWidth={1} ifOverflow="visible" />
      </ScatterChart>
    </div>
  )
}

function HorizontalColorbar() {
  return (
    <div style={{ position: 'absolute', left: 123, top: 823 }}>
      <ScatterChart width={700} height={80} margin={{ top: 10, right: 10, bottom: 0, left: 10 }}>
        <defs>
          <linearGradient id="hbar" x1="0" y1="0" x2="1" y2="0">
            {gradientStops()}
          </linearGradient>
        </defs>
        <XAxis
          type="number"
          dataKey="x"
          domain={[-1, 1]}
          ticks={colorbarTicks}
          interval={0}
          height={45}
          axisLine={false}
          tickLine={{ stroke: '#222' }}
          tickSize={6}
          tickMargin={23}
          tick={(p: any) => (
            <text key={p.payload.value} x={p.x} y={p.y} textAnchor="middle" dominantBaseline="central" fontSize={16} fontFamily={FONT} fill="#222">
              {fmt(p.payload.value)}
            </text>
          )}
        />
        <YAxis type="number" dataKey="y" domain={[0, 1]} hide />
        <Scatter data={[]} isAnimationActive={false} />
        <ReferenceArea x1={-1} x2={1} y1={0} y2={1} fill="url(#hbar)" fillOpacity={1} stroke="#222" strokeWidth={1} ifOverflow="visible" />
      </ScatterChart>
    </div>
  )
}

// ---------- panels B-F ----------
type Box = { L: number; T: number; R: number; B: number }
type PanelCfg = {
  letter: string
  letterAt: [number, number]
  box: Box
  points: [number, number][]
  fit: [number, number][]
  yDomain: [number, number]
  yTicks: number[]
  yMinor: number[]
  digits: number
  yTitle: string
  yTitleAt: [number, number]
  xTitleAt: [number, number]
  stat: [string, string]
  statAt: [number, number, number]
}

const Dot = (p: any) => <circle cx={p.cx} cy={p.cy} r={3.8} fill={POINT} />

function CorrScatter({ cfg }: { cfg: PanelCfg }) {
  const { box } = cfg
  const w = box.R - box.L + 70
  const h = box.B - box.T + 40
  const data = cfg.points.map(([x, y]) => ({ x, y }))
  const tickStyle = { fill: '#4d4d4d', fontSize: 17, fontFamily: FONT }
  return (
    <>
      <div style={{ position: 'absolute', left: box.L - 60, top: box.T - 10 }}>
        <ScatterChart width={w} height={h} margin={{ top: 10, right: 10, left: 0, bottom: 0 }}>
          <CartesianGrid horizontalValues={cfg.yMinor} verticalValues={ogdhlMinor} stroke="#efefef" strokeWidth={0.8} />
          <CartesianGrid horizontalValues={cfg.yTicks} verticalValues={ogdhlTicks} stroke="#e6e6e6" strokeWidth={1.3} />
          <XAxis
            type="number"
            dataKey="x"
            domain={OGDHL_DOMAIN}
            ticks={ogdhlTicks}
            interval={0}
            allowDataOverflow
            height={30}
            axisLine={false}
            tickLine={{ stroke: '#333' }}
            tickSize={4}
            tickMargin={8}
            tick={tickStyle}
          />
          <YAxis
            type="number"
            dataKey="y"
            domain={cfg.yDomain}
            ticks={cfg.yTicks}
            interval={0}
            allowDataOverflow
            width={60}
            axisLine={false}
            tickLine={{ stroke: '#333' }}
            tickSize={4}
            tickMargin={5}
            tick={tickStyle}
            tickFormatter={(v: number) => v.toFixed(cfg.digits)}
          />
          <Scatter data={data} isAnimationActive={false} shape={Dot} />
          <ReferenceLine
            segment={[
              { x: cfg.fit[0][0], y: cfg.fit[0][1] },
              { x: cfg.fit[1][0], y: cfg.fit[1][1] },
            ]}
            stroke={FIT}
            strokeWidth={3}
            ifOverflow="visible"
          />
          <ReferenceArea
            x1={OGDHL_DOMAIN[0]}
            x2={OGDHL_DOMAIN[1]}
            y1={cfg.yDomain[0]}
            y2={cfg.yDomain[1]}
            fill="none"
            stroke="#333"
            strokeWidth={1.2}
            ifOverflow="visible"
          />
        </ScatterChart>
      </div>
      <Txt x={cfg.letterAt[0]} y={cfg.letterAt[1]} size={18} bold>
        {cfg.letter}
      </Txt>
      <Txt x={cfg.yTitleAt[0]} y={cfg.yTitleAt[1]} size={21} rotate>
        {cfg.yTitle}
      </Txt>
      <Txt x={cfg.xTitleAt[0]} y={cfg.xTitleAt[1]} size={21}>
        OGDHL
      </Txt>
      <Txt x={cfg.statAt[0]} y={cfg.statAt[1]} size={17}>
        {cfg.stat[0]}
      </Txt>
      <Txt x={cfg.statAt[0]} y={cfg.statAt[2]} size={17}>
        {cfg.stat[1]}
      </Txt>
    </>
  )
}

const panels: PanelCfg[] = [
  {
    letter: 'B', letterAt: [916.5, 14], box: { L: 985, T: 18, R: 1340.7, B: 389 },
    points: bCellPoints, fit: bCellFit, yDomain: [-0.0425, 0.961], yTicks: [0, 0.25, 0.5, 0.75], yMinor: [0.125, 0.375, 0.625, 0.875], digits: 2,
    yTitle: 'B Cell', yTitleAt: [925, 200], xTitleAt: [1163, 429],
    stat: ['Pearson R = \u22120.27', 'P = 2.09e\u221210'], statAt: [1270, 85, 108],
  },
  {
    letter: 'C', letterAt: [920, 480], box: { L: 976, T: 465, R: 1340.7, B: 837.7 },
    points: cd4Points, fit: cd4Fit, yDomain: [-0.0245, 0.521], yTicks: [0, 0.1, 0.2, 0.3, 0.4, 0.5], yMinor: [0.05, 0.15, 0.25, 0.35, 0.45], digits: 1,
    yTitle: 'CD4', yTitleAt: [924, 652], xTitleAt: [1158, 878.5],
    stat: ['Pearson R = \u22120.27', 'P = 7.88e\u221211'], statAt: [1269.5, 536, 560.7],
  },
  {
    letter: 'D', letterAt: [33, 919.5], box: { L: 85.7, T: 913.3, R: 450, B: 1284 },
    points: neutrophilPoints, fit: neutrophilFit, yDomain: [0.0235, 0.333], yTicks: [0.1, 0.2, 0.3], yMinor: [0.05, 0.15, 0.25], digits: 1,
    yTitle: 'Neutrophil', yTitleAt: [35, 1098], xTitleAt: [267.5, 1322],
    stat: ['Pearson R = \u22120.25', 'P = 1.6e\u221209'], statAt: [378.3, 965, 989.3],
  },
  {
    letter: 'E', letterAt: [471.5, 919.5], box: { L: 531, T: 913.3, R: 895.7, B: 1284.3 },
    points: macrophagePoints, fit: macrophageFit, yDomain: [-0.0147, 0.3142], yTicks: [0, 0.1, 0.2, 0.3], yMinor: [0.05, 0.15, 0.25], digits: 1,
    yTitle: 'Macrophage', yTitleAt: [480, 1099], xTitleAt: [713, 1322],
    stat: ['Pearson R = \u22120.17', 'P = 1e\u221204'], statAt: [824.5, 963.3, 988.3],
  },
  {
    letter: 'F', letterAt: [920.5, 919.5], box: { L: 977.3, T: 913.3, R: 1341.7, B: 1284 },
    points: dendriticPoints, fit: dendriticFit, yDomain: [0.268, 1.618], yTicks: [0.4, 0.8, 1.2, 1.6], yMinor: [0.6, 1.0, 1.4], digits: 1,
    yTitle: 'Dendritic', yTitleAt: [925, 1098], xTitleAt: [1158, 1322],
    stat: ['Pearson R = \u22120.27', 'P = 1.34e\u221210'], statAt: [1270.3, 961.7, 986],
  },
]

export default function App() {
  return (
    <div style={{ position: 'absolute', left: 0, top: 0, width: 1353, height: 1334, background: '#fff', overflow: 'hidden', fontFamily: FONT }}>
      <CorrMatrix />
      <VerticalColorbar />
      <HorizontalColorbar />
      <Txt x={33} y={22.5} size={18} bold>
        A
      </Txt>
      {panels.map((cfg) => (
        <CorrScatter key={cfg.letter} cfg={cfg} />
      ))}
    </div>
  )
}
